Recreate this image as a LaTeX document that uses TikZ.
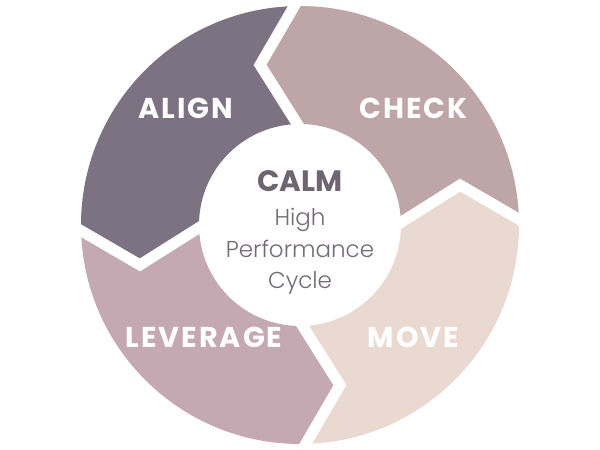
\documentclass[tikz,border=0pt]{standalone}
\usepackage{fontspec}
\setmainfont{Poppins}
\newfontfamily\thinfont{Poppins Light}
\newfontfamily\stagefont{Poppins}[LetterSpace=7]
\usetikzlibrary{calc}

\definecolor{aligncol}{HTML}{7D7282}
\definecolor{checkcol}{HTML}{BEA5A7}
\definecolor{movecol}{HTML}{EAD9D1}
\definecolor{levercol}{HTML}{C4A9B2}
\definecolor{calmcol}{HTML}{6D6570}
\definecolor{cyclecol}{HTML}{726A75}

\tikzset{
  gap/.style={draw=white, line width=11pt, line join=miter},
  stage/.style={anchor=base, text=white, font=\stagefont\fontsize{28.7}{30}\selectfont\bfseries},
  subline/.style={anchor=base, text=cyclecol, font=\thinfont\fontsize{23}{25}\selectfont},
}

\begin{document}
\begin{tikzpicture}[x=1pt,y=1pt]
  \useasboundingbox (-300,-225) rectangle (300,225);
  \def\Ro{219}
  \def\Ri{101}
  \def\Rt{165}
  \coordinate (O) at (0,0);

  % tips of the four chevrons
  \coordinate (Tr) at (14:\Rt);
  \coordinate (Tt) at (104:\Rt);
  \coordinate (Tl) at (194:\Rt);
  \coordinate (Tb) at (284:\Rt);

  % ring segments
  \fill[checkcol] (1.5:\Ro) arc[start angle=1.5, end angle=91.5, radius=\Ro]
    -- (Tt) -- (91.5:\Ri) arc[start angle=91.5, end angle=1.5, radius=\Ri] -- (Tr) -- cycle;
  \fill[aligncol] (91.5:\Ro) arc[start angle=91.5, end angle=181.5, radius=\Ro]
    -- (Tl) -- (181.5:\Ri) arc[start angle=181.5, end angle=91.5, radius=\Ri] -- (Tt) -- cycle;
  \fill[levercol] (181.5:\Ro) arc[start angle=181.5, end angle=271.5, radius=\Ro]
    -- (Tb) -- (271.5:\Ri) arc[start angle=271.5, end angle=181.5, radius=\Ri] -- (Tl) -- cycle;
  \fill[movecol] (271.5:\Ro) arc[start angle=271.5, end angle=361.5, radius=\Ro]
    -- (Tr) -- (1.5:\Ri) arc[start angle=1.5, end angle=-88.5, radius=\Ri] -- (Tb) -- cycle;

  % white gaps between the segments
  \draw[gap] ($(Tr)!1.15!(1.5:\Ro)$) -- (Tr) -- ($(Tr)!1.15!(1.5:\Ri)$);
  \draw[gap] ($(Tt)!1.15!(91.5:\Ro)$) -- (Tt) -- ($(Tt)!1.15!(91.5:\Ri)$);
  \draw[gap] ($(Tl)!1.15!(181.5:\Ro)$) -- (Tl) -- ($(Tl)!1.15!(181.5:\Ri)$);
  \draw[gap] ($(Tb)!1.15!(271.5:\Ro)$) -- (Tb) -- ($(Tb)!1.15!(271.5:\Ri)$);

  \node[stage] (align) at (-114,106) {ALIGN};
  \node[stage] (check) at (113.5,106) {CHECK};
  \node[stage] (lever) at (-96,-122) {LEVERAGE};
  \node[stage] (move) at (113.5,-122) {MOVE};

  \node[anchor=base, text=calmcol, font=\fontsize{29.5}{31}\selectfont\bfseries] (calm) at (0,34) {CALM};
  \node[subline] (high) at (0,-1) {High};
  \node[subline] (perf) at (0,-32) {Performance};
  \node[subline] (cycle) at (0,-63) {Cycle};
\end{tikzpicture}
\end{document}
